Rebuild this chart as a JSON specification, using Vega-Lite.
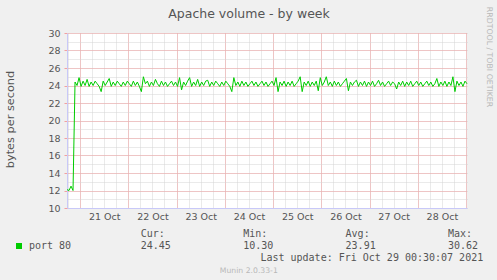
{
  "$schema": "https://vega.github.io/schema/vega-lite/v6.json",
  "width": 400,
  "height": 175,
  "autosize": {"type": "none"},
  "padding": {"left": 67, "top": 33, "right": 30, "bottom": 72},
  "background": "#f0f0f0",
  "config": {"view": {"stroke": null, "fill": "#ffffff"}, "font": "DejaVu Sans"},
  "resolve": {"scale": {"x": "independent", "y": "independent"}},
  "layer": [
    {
      "data": {"values": [
        {"t": "2021-10-20T17:30:00Z", "v": 12.1}, {"t": "2021-10-20T18:30:00Z", "v": 12.0}, {"t": "2021-10-20T19:30:00Z", "v": 12.5}, {"t": "2021-10-20T20:30:00Z", "v": 12.0},
        {"t": "2021-10-20T21:30:00Z", "v": 24.4}, {"t": "2021-10-20T22:30:00Z", "v": 24.0}, {"t": "2021-10-20T23:30:00Z", "v": 24.9},
        {"t": "2021-10-21T00:30:00Z", "v": 23.9}, {"t": "2021-10-21T01:30:00Z", "v": 24.5}, {"t": "2021-10-21T02:30:00Z", "v": 24.0}, {"t": "2021-10-21T03:30:00Z", "v": 24.7},
        {"t": "2021-10-21T04:30:00Z", "v": 23.9}, {"t": "2021-10-21T05:30:00Z", "v": 24.4}, {"t": "2021-10-21T06:30:00Z", "v": 24.0}, {"t": "2021-10-21T07:30:00Z", "v": 24.5},
        {"t": "2021-10-21T08:30:00Z", "v": 24.2}, {"t": "2021-10-21T09:30:00Z", "v": 23.9}, {"t": "2021-10-21T10:30:00Z", "v": 23.3}, {"t": "2021-10-21T11:30:00Z", "v": 24.5},
        {"t": "2021-10-21T12:30:00Z", "v": 24.0}, {"t": "2021-10-21T13:30:00Z", "v": 24.4}, {"t": "2021-10-21T14:30:00Z", "v": 24.8}, {"t": "2021-10-21T15:30:00Z", "v": 23.9},
        {"t": "2021-10-21T16:30:00Z", "v": 24.4}, {"t": "2021-10-21T17:30:00Z", "v": 24.0}, {"t": "2021-10-21T18:30:00Z", "v": 24.5}, {"t": "2021-10-21T19:30:00Z", "v": 24.2},
        {"t": "2021-10-21T20:30:00Z", "v": 23.9}, {"t": "2021-10-21T21:30:00Z", "v": 24.4}, {"t": "2021-10-21T22:30:00Z", "v": 24.0}, {"t": "2021-10-21T23:30:00Z", "v": 24.5},
        {"t": "2021-10-22T00:30:00Z", "v": 24.2}, {"t": "2021-10-22T01:30:00Z", "v": 23.9}, {"t": "2021-10-22T02:30:00Z", "v": 24.5}, {"t": "2021-10-22T03:30:00Z", "v": 24.0},
        {"t": "2021-10-22T04:30:00Z", "v": 24.4}, {"t": "2021-10-22T05:30:00Z", "v": 23.9}, {"t": "2021-10-22T06:30:00Z", "v": 23.3}, {"t": "2021-10-22T07:30:00Z", "v": 25.0},
        {"t": "2021-10-22T08:30:00Z", "v": 24.2}, {"t": "2021-10-22T09:30:00Z", "v": 24.5}, {"t": "2021-10-22T10:30:00Z", "v": 23.9}, {"t": "2021-10-22T11:30:00Z", "v": 24.4},
        {"t": "2021-10-22T12:30:00Z", "v": 24.0}, {"t": "2021-10-22T13:30:00Z", "v": 24.7}, {"t": "2021-10-22T14:30:00Z", "v": 24.2}, {"t": "2021-10-22T15:30:00Z", "v": 23.9},
        {"t": "2021-10-22T16:30:00Z", "v": 24.5}, {"t": "2021-10-22T17:30:00Z", "v": 24.0}, {"t": "2021-10-22T18:30:00Z", "v": 24.4}, {"t": "2021-10-22T19:30:00Z", "v": 23.9},
        {"t": "2021-10-22T20:30:00Z", "v": 24.2}, {"t": "2021-10-22T21:30:00Z", "v": 24.5}, {"t": "2021-10-22T22:30:00Z", "v": 24.0}, {"t": "2021-10-22T23:30:00Z", "v": 24.4},
        {"t": "2021-10-23T00:30:00Z", "v": 23.9}, {"t": "2021-10-23T01:30:00Z", "v": 24.9}, {"t": "2021-10-23T02:30:00Z", "v": 23.5}, {"t": "2021-10-23T03:30:00Z", "v": 24.4},
        {"t": "2021-10-23T04:30:00Z", "v": 24.0}, {"t": "2021-10-23T05:30:00Z", "v": 24.5}, {"t": "2021-10-23T06:30:00Z", "v": 24.9}, {"t": "2021-10-23T07:30:00Z", "v": 23.9},
        {"t": "2021-10-23T08:30:00Z", "v": 24.4}, {"t": "2021-10-23T09:30:00Z", "v": 24.0}, {"t": "2021-10-23T10:30:00Z", "v": 24.7}, {"t": "2021-10-23T11:30:00Z", "v": 23.9},
        {"t": "2021-10-23T12:30:00Z", "v": 24.4}, {"t": "2021-10-23T13:30:00Z", "v": 24.0}, {"t": "2021-10-23T14:30:00Z", "v": 24.5}, {"t": "2021-10-23T15:30:00Z", "v": 24.6},
        {"t": "2021-10-23T16:30:00Z", "v": 23.9}, {"t": "2021-10-23T17:30:00Z", "v": 24.4}, {"t": "2021-10-23T18:30:00Z", "v": 24.0}, {"t": "2021-10-23T19:30:00Z", "v": 24.5},
        {"t": "2021-10-23T20:30:00Z", "v": 24.2}, {"t": "2021-10-23T21:30:00Z", "v": 23.9}, {"t": "2021-10-23T22:30:00Z", "v": 24.4}, {"t": "2021-10-23T23:30:00Z", "v": 24.0},
        {"t": "2021-10-24T00:30:00Z", "v": 24.5}, {"t": "2021-10-24T01:30:00Z", "v": 24.2}, {"t": "2021-10-24T02:30:00Z", "v": 23.9}, {"t": "2021-10-24T03:30:00Z", "v": 23.3},
        {"t": "2021-10-24T04:30:00Z", "v": 24.9}, {"t": "2021-10-24T05:30:00Z", "v": 24.0}, {"t": "2021-10-24T06:30:00Z", "v": 24.4}, {"t": "2021-10-24T07:30:00Z", "v": 23.9},
        {"t": "2021-10-24T08:30:00Z", "v": 24.5}, {"t": "2021-10-24T09:30:00Z", "v": 24.0}, {"t": "2021-10-24T10:30:00Z", "v": 24.4}, {"t": "2021-10-24T11:30:00Z", "v": 23.9},
        {"t": "2021-10-24T12:30:00Z", "v": 24.2}, {"t": "2021-10-24T13:30:00Z", "v": 24.5}, {"t": "2021-10-24T14:30:00Z", "v": 24.0}, {"t": "2021-10-24T15:30:00Z", "v": 24.4},
        {"t": "2021-10-24T16:30:00Z", "v": 23.9}, {"t": "2021-10-24T17:30:00Z", "v": 24.2}, {"t": "2021-10-24T18:30:00Z", "v": 24.5}, {"t": "2021-10-24T19:30:00Z", "v": 24.0},
        {"t": "2021-10-24T20:30:00Z", "v": 24.4}, {"t": "2021-10-24T21:30:00Z", "v": 23.9}, {"t": "2021-10-24T22:30:00Z", "v": 24.2}, {"t": "2021-10-24T23:30:00Z", "v": 24.5},
        {"t": "2021-10-25T00:30:00Z", "v": 24.0}, {"t": "2021-10-25T01:30:00Z", "v": 24.9}, {"t": "2021-10-25T02:30:00Z", "v": 23.3}, {"t": "2021-10-25T03:30:00Z", "v": 24.4},
        {"t": "2021-10-25T04:30:00Z", "v": 24.0}, {"t": "2021-10-25T05:30:00Z", "v": 24.5}, {"t": "2021-10-25T06:30:00Z", "v": 23.9}, {"t": "2021-10-25T07:30:00Z", "v": 24.4},
        {"t": "2021-10-25T08:30:00Z", "v": 24.0}, {"t": "2021-10-25T09:30:00Z", "v": 24.5}, {"t": "2021-10-25T10:30:00Z", "v": 23.9}, {"t": "2021-10-25T11:30:00Z", "v": 24.2},
        {"t": "2021-10-25T12:30:00Z", "v": 24.5}, {"t": "2021-10-25T13:30:00Z", "v": 25.0}, {"t": "2021-10-25T14:30:00Z", "v": 23.3}, {"t": "2021-10-25T15:30:00Z", "v": 24.4},
        {"t": "2021-10-25T16:30:00Z", "v": 24.0}, {"t": "2021-10-25T17:30:00Z", "v": 24.5}, {"t": "2021-10-25T18:30:00Z", "v": 23.9}, {"t": "2021-10-25T19:30:00Z", "v": 24.4},
        {"t": "2021-10-25T20:30:00Z", "v": 24.0}, {"t": "2021-10-25T21:30:00Z", "v": 24.5}, {"t": "2021-10-25T22:30:00Z", "v": 23.4}, {"t": "2021-10-25T23:30:00Z", "v": 24.9},
        {"t": "2021-10-26T00:30:00Z", "v": 24.0}, {"t": "2021-10-26T01:30:00Z", "v": 24.4}, {"t": "2021-10-26T02:30:00Z", "v": 25.0}, {"t": "2021-10-26T03:30:00Z", "v": 24.0},
        {"t": "2021-10-26T04:30:00Z", "v": 24.4}, {"t": "2021-10-26T05:30:00Z", "v": 23.9}, {"t": "2021-10-26T06:30:00Z", "v": 24.5}, {"t": "2021-10-26T07:30:00Z", "v": 24.0},
        {"t": "2021-10-26T08:30:00Z", "v": 24.4}, {"t": "2021-10-26T09:30:00Z", "v": 23.9}, {"t": "2021-10-26T10:30:00Z", "v": 24.2}, {"t": "2021-10-26T11:30:00Z", "v": 24.5},
        {"t": "2021-10-26T12:30:00Z", "v": 24.8}, {"t": "2021-10-26T13:30:00Z", "v": 23.4}, {"t": "2021-10-26T14:30:00Z", "v": 24.4}, {"t": "2021-10-26T15:30:00Z", "v": 24.0},
        {"t": "2021-10-26T16:30:00Z", "v": 24.4}, {"t": "2021-10-26T17:30:00Z", "v": 24.6}, {"t": "2021-10-26T18:30:00Z", "v": 23.9}, {"t": "2021-10-26T19:30:00Z", "v": 24.4},
        {"t": "2021-10-26T20:30:00Z", "v": 24.0}, {"t": "2021-10-26T21:30:00Z", "v": 24.5}, {"t": "2021-10-26T22:30:00Z", "v": 23.9}, {"t": "2021-10-26T23:30:00Z", "v": 24.4},
        {"t": "2021-10-27T00:30:00Z", "v": 24.0}, {"t": "2021-10-27T01:30:00Z", "v": 24.5}, {"t": "2021-10-27T02:30:00Z", "v": 23.9}, {"t": "2021-10-27T03:30:00Z", "v": 24.2},
        {"t": "2021-10-27T04:30:00Z", "v": 24.6}, {"t": "2021-10-27T05:30:00Z", "v": 24.0}, {"t": "2021-10-27T06:30:00Z", "v": 24.4}, {"t": "2021-10-27T07:30:00Z", "v": 23.9},
        {"t": "2021-10-27T08:30:00Z", "v": 24.2}, {"t": "2021-10-27T09:30:00Z", "v": 24.5}, {"t": "2021-10-27T10:30:00Z", "v": 24.0}, {"t": "2021-10-27T11:30:00Z", "v": 24.4},
        {"t": "2021-10-27T12:30:00Z", "v": 24.2}, {"t": "2021-10-27T13:30:00Z", "v": 23.6}, {"t": "2021-10-27T14:30:00Z", "v": 24.4}, {"t": "2021-10-27T15:30:00Z", "v": 24.0},
        {"t": "2021-10-27T16:30:00Z", "v": 24.5}, {"t": "2021-10-27T17:30:00Z", "v": 23.9}, {"t": "2021-10-27T18:30:00Z", "v": 24.4}, {"t": "2021-10-27T19:30:00Z", "v": 24.0},
        {"t": "2021-10-27T20:30:00Z", "v": 24.5}, {"t": "2021-10-27T21:30:00Z", "v": 23.9}, {"t": "2021-10-27T22:30:00Z", "v": 24.2}, {"t": "2021-10-27T23:30:00Z", "v": 24.5},
        {"t": "2021-10-28T00:30:00Z", "v": 24.0}, {"t": "2021-10-28T01:30:00Z", "v": 24.4}, {"t": "2021-10-28T02:30:00Z", "v": 23.9}, {"t": "2021-10-28T03:30:00Z", "v": 24.2},
        {"t": "2021-10-28T04:30:00Z", "v": 24.5}, {"t": "2021-10-28T05:30:00Z", "v": 24.0}, {"t": "2021-10-28T06:30:00Z", "v": 24.4}, {"t": "2021-10-28T07:30:00Z", "v": 23.9},
        {"t": "2021-10-28T08:30:00Z", "v": 24.2}, {"t": "2021-10-28T09:30:00Z", "v": 24.8}, {"t": "2021-10-28T10:30:00Z", "v": 23.9}, {"t": "2021-10-28T11:30:00Z", "v": 24.4},
        {"t": "2021-10-28T12:30:00Z", "v": 24.0}, {"t": "2021-10-28T13:30:00Z", "v": 24.5}, {"t": "2021-10-28T14:30:00Z", "v": 23.9}, {"t": "2021-10-28T15:30:00Z", "v": 24.4},
        {"t": "2021-10-28T16:30:00Z", "v": 24.0}, {"t": "2021-10-28T17:30:00Z", "v": 25.0}, {"t": "2021-10-28T18:30:00Z", "v": 23.3}, {"t": "2021-10-28T19:30:00Z", "v": 24.5},
        {"t": "2021-10-28T20:30:00Z", "v": 24.0}, {"t": "2021-10-28T21:30:00Z", "v": 24.4}, {"t": "2021-10-28T22:30:00Z", "v": 23.9}, {"t": "2021-10-28T23:30:00Z", "v": 24.5},
        {"t": "2021-10-29T00:30:00Z", "v": 24.2}
      ]},
      "resolve": {"axis": {"x": "independent", "y": "independent"}},
      "layer": [
        {
          "transform": [{"filter": "datum.v > 1000"}],
          "mark": "line",
          "encoding": {
            "x": {"field": "t", "type": "temporal",
              "scale": {"type": "utc", "domain": [1634751000000, 1635467400000]},
              "axis": {"orient": "top", "grid": true, "gridColor": "#d4d4d4", "gridDash": [1, 1],
                "values": [1634752800000, 1634774400000, 1634796000000, 1634817600000, 1634839200000, 1634860800000, 1634882400000, 1634904000000, 1634925600000, 1634947200000, 1634968800000, 1634990400000, 1635012000000, 1635033600000, 1635055200000, 1635076800000, 1635098400000, 1635120000000, 1635141600000, 1635163200000, 1635184800000, 1635206400000, 1635228000000, 1635249600000, 1635271200000, 1635292800000, 1635314400000, 1635336000000, 1635357600000, 1635379200000, 1635400800000, 1635422400000, 1635444000000, 1635465600000],
                "labels": false, "ticks": false, "domain": false,
                "title": "Apache volume - by week", "titleFont": "DejaVu Sans", "titleFontSize": 12.5, "titleFontWeight": "normal", "titleColor": "#555555",
                "titleX": 181.5, "titleY": -15.5, "titleAlign": "center", "titleBaseline": "alphabetic", "titleAngle": 0}},
            "y": {"field": "v", "type": "quantitative",
              "scale": {"domain": [10, 30], "nice": false, "zero": false},
              "axis": {"orient": "right", "grid": true, "gridColor": "#d4d4d4", "gridDash": [1, 1],
                "values": [10, 11, 12, 13, 14, 15, 16, 17, 18, 19, 20, 21, 22, 23, 24, 25, 26, 27, 28, 29, 30],
                "labels": false, "ticks": false, "domain": false,
                "title": "RRDTOOL / TOBI OETIKER", "titleFont": "DejaVu Sans", "titleFontSize": 7.8, "titleFontWeight": "normal", "titleColor": "#b8b8b8",
                "titleX": 21.5, "titleY": 23.5, "titleAngle": 90, "titleAlign": "center", "titleBaseline": "middle"}}
          }
        },
        {
          "transform": [{"filter": "datum.v > 1000"}],
          "mark": "line",
          "encoding": {
            "x": {"field": "t", "type": "temporal",
              "scale": {"type": "utc", "domain": [1634751000000, 1635467400000]},
              "axis": {"orient": "bottom", "grid": true, "gridColor": "#f2a0a0", "gridDash": [1, 1],
                "values": [1634774400000, 1634860800000, 1634947200000, 1635033600000, 1635120000000, 1635206400000, 1635292800000, 1635379200000, 1635465600000],
                "labels": false, "ticks": false, "domain": false,
                "title": "Munin 2.0.33-1", "titleFont": "DejaVu Sans", "titleFontSize": 7.7, "titleFontWeight": "normal", "titleColor": "#b8b8b8",
                "titleX": 181.3, "titleY": 64, "titleAlign": "center", "titleBaseline": "alphabetic", "titleAngle": 0}},
            "y": {"field": "v", "type": "quantitative",
              "scale": {"domain": [10, 30], "nice": false, "zero": false},
              "axis": {"orient": "left", "grid": true, "gridColor": "#f2a0a0", "gridDash": [1, 1],
                "values": [10, 12, 14, 16, 18, 20, 22, 24, 26, 28, 30],
                "labels": false, "ticks": true, "tickColor": "#f2a0a0", "tickSize": 3, "domain": false, "title": null}}
          }
        },
        {
          "mark": {"type": "line", "strokeWidth": 1, "interpolate": "linear"},
          "encoding": {
            "x": {"field": "t", "type": "temporal",
              "scale": {"type": "utc", "domain": [1634751000000, 1635467400000]},
              "axis": {"orient": "bottom", "grid": false, "ticks": false, "domain": true, "domainColor": "#c8c8f8",
                "values": [1634817600000, 1634904000000, 1634990400000, 1635076800000, 1635163200000, 1635249600000, 1635336000000, 1635422400000],
                "format": "%d %b", "labelFont": "DejaVu Sans", "labelFontSize": 9.5, "labelColor": "#555555", "labelPadding": 3,
                "labelFlush": false, "labelOverlap": false,
                "title": "Last update: Fri Oct 29 00:30:07 2021", "titleFont": "DejaVu Sans Mono", "titleFontSize": 10, "titleFontWeight": "normal", "titleColor": "#555555",
                "titleX": 415.7, "titleY": 52.3, "titleAlign": "right", "titleBaseline": "alphabetic", "titleAngle": 0}},
            "y": {"field": "v", "type": "quantitative",
              "scale": {"domain": [10, 30], "nice": false, "zero": false},
              "axis": {"orient": "left", "grid": false, "ticks": false, "domain": true, "domainColor": "#c8c8f8",
                "values": [10, 12, 14, 16, 18, 20, 22, 24, 26, 28, 30],
                "labelFont": "DejaVu Sans", "labelFontSize": 9.5, "labelColor": "#555555", "labelPadding": 7,
                "title": "bytes per second", "titleFont": "DejaVu Sans", "titleFontSize": 11.3, "titleFontWeight": "normal", "titleColor": "#555555",
                "titleX": -56.5, "titleY": 86, "titleAngle": -90, "titleAlign": "center", "titleBaseline": "middle"}},
            "color": {"datum": "port 80", "type": "nominal", "scale": {"range": ["#00cc00"]},
              "legend": {"orient": "none", "legendX": -53, "legendY": 208, "title": null, "padding": 0,
                "symbolType": "square", "symbolSize": 36, "symbolStrokeWidth": 0, "symbolFillColor": "#00cc00",
                "labelFont": "DejaVu Sans Mono", "labelFontSize": 10, "labelColor": "#555555", "labelOffset": 5}}
          }
        }
      ]
    },
    {
      "data": {"values": [
        {"col": "Cur", "line": "head", "text": "Cur:"}, {"col": "Cur", "line": "value", "text": "24.45"},
        {"col": "Min", "line": "head", "text": "Min:"}, {"col": "Min", "line": "value", "text": "10.30"},
        {"col": "Avg", "line": "head", "text": "Avg:"}, {"col": "Avg", "line": "value", "text": "23.91"},
        {"col": "Max", "line": "head", "text": "Max:"}, {"col": "Max", "line": "value", "text": "30.62"}
      ]},
      "mark": {"type": "text", "font": "DejaVu Sans Mono", "fontSize": 10, "align": "left", "baseline": "alphabetic", "color": "#555555"},
      "encoding": {
        "x": {"field": "col", "type": "nominal", "scale": {"type": "point", "domain": ["Cur", "Min", "Avg", "Max"], "range": [73.7, 381], "padding": 0}, "axis": null},
        "y": {"field": "line", "type": "nominal", "scale": {"type": "point", "domain": ["head", "value"], "range": [204, 215.7], "padding": 0}, "axis": null},
        "text": {"field": "text"}
      }
    }
  ]
}
